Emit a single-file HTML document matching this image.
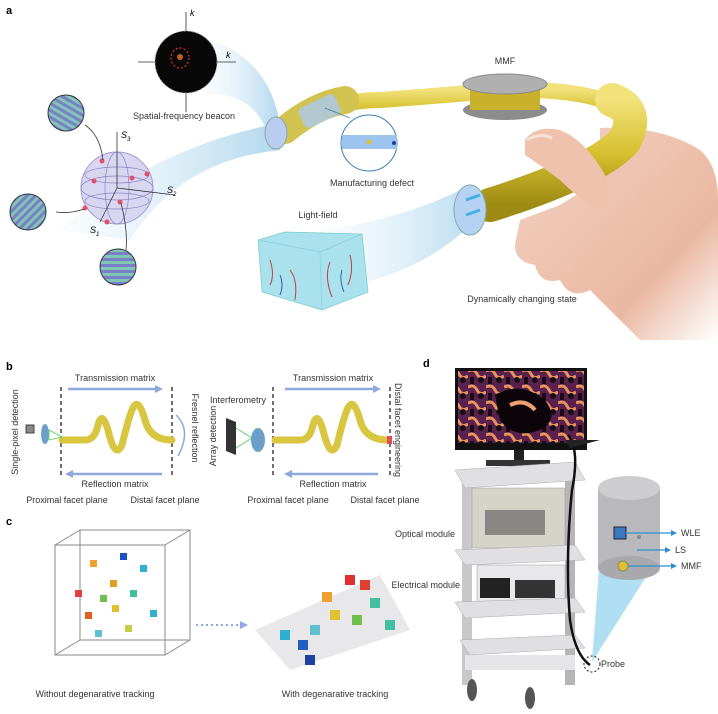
<!DOCTYPE html>
<html><head><meta charset="utf-8"><style>
html,body{margin:0;padding:0;background:#fff;}
svg{display:block;font-family:"Liberation Sans",sans-serif;}
</style></head><body>
<svg width="718" height="714" viewBox="0 0 718 714" xmlns="http://www.w3.org/2000/svg">
<defs>
<linearGradient id="glow" x1="0" x2="1"><stop offset="0" stop-color="#d8ecf7" stop-opacity="0.2"/><stop offset="1" stop-color="#8fc6e6"/></linearGradient>
<linearGradient id="yel" x1="0" y1="0" x2="0" y2="1"><stop offset="0" stop-color="#f1e27a"/><stop offset="0.5" stop-color="#d6c130"/><stop offset="1" stop-color="#9c8a14"/></linearGradient>
<linearGradient id="skin" x1="0" y1="0" x2="1" y2="1"><stop offset="0" stop-color="#f3d3c3"/><stop offset="0.7" stop-color="#eab8a2"/><stop offset="1" stop-color="#fff"/></linearGradient>
<pattern id="str1" width="6" height="6" patternUnits="userSpaceOnUse" patternTransform="rotate(-60)"><rect width="6" height="6" fill="#7fc7b2"/><rect width="3" height="6" fill="#7a7fc9"/></pattern>
<pattern id="str2" width="6" height="6" patternUnits="userSpaceOnUse" patternTransform="rotate(45)"><rect width="6" height="6" fill="#7fc7b2"/><rect width="3" height="6" fill="#7a7fc9"/></pattern>
<pattern id="str3" width="6" height="6" patternUnits="userSpaceOnUse"><rect width="6" height="6" fill="#7fc7b2"/><rect width="6" height="3" fill="#7a7fc9"/></pattern>
<pattern id="img" width="18" height="16" patternUnits="userSpaceOnUse"><rect width="18" height="16" fill="#5a2050"/><path d="M0 3 Q6 0 9 6 T18 8" stroke="#e8955a" stroke-width="3" fill="none"/><circle cx="13" cy="12" r="3" fill="#111"/><rect x="2" y="9" width="4" height="7" fill="#1a0a14"/></pattern>
</defs>

<!-- Panel a -->
<text x="6" y="14" font-size="11" font-weight="bold">a</text>
<path d="M210 40 Q270 60 280 125 L270 140 Q255 90 205 95 Z" fill="url(#glow)" opacity="0.7"/>
<path d="M60 230 Q150 150 270 125 L280 150 Q180 160 130 240 Z" fill="url(#glow)" opacity="0.7"/>
<path d="M320 230 Q400 220 460 190 L470 225 Q420 275 330 290 Z" fill="url(#glow)" opacity="0.6"/>
<line x1="186" y1="12" x2="186" y2="112" stroke="#333" stroke-width="0.8"/>
<line x1="138" y1="62" x2="236" y2="62" stroke="#333" stroke-width="0.8"/>
<circle cx="186" cy="62" r="31" fill="#080808" stroke="#999" stroke-dasharray="2 2"/>
<ellipse cx="180" cy="58" rx="9" ry="10" fill="none" stroke="#e03030" stroke-dasharray="2 2" stroke-width="1.2"/>
<circle cx="180" cy="57" r="3" fill="#c06020"/>
<text x="190" y="16" font-size="9" font-style="italic">k</text>
<text x="226" y="58" font-size="9" font-style="italic">k</text>
<text x="184" y="119" font-size="9" text-anchor="middle" fill="#333">Spatial-frequency beacon</text>
<circle cx="117" cy="188" r="36" fill="#d9d6f2" stroke="#a09ad0"/>
<ellipse cx="117" cy="188" rx="36" ry="12" fill="none" stroke="#8a85c0" stroke-width="0.7"/>
<ellipse cx="117" cy="188" rx="12" ry="36" fill="none" stroke="#8a85c0" stroke-width="0.7"/>
<ellipse cx="117" cy="175" rx="32" ry="8" fill="none" stroke="#8a85c0" stroke-width="0.7"/>
<ellipse cx="117" cy="201" rx="32" ry="8" fill="none" stroke="#8a85c0" stroke-width="0.7"/>
<line x1="117" y1="188" x2="117" y2="132" stroke="#333" stroke-width="0.8"/>
<line x1="117" y1="188" x2="175" y2="195" stroke="#333" stroke-width="0.8"/>
<line x1="117" y1="188" x2="100" y2="222" stroke="#333" stroke-width="0.8"/>
<g fill="#e0506a"><circle cx="102" cy="161" r="2.5"/><circle cx="94" cy="181" r="2.5"/><circle cx="132" cy="178" r="2.5"/><circle cx="147" cy="174" r="2.5"/><circle cx="120" cy="202" r="2.5"/><circle cx="85" cy="208" r="2.5"/><circle cx="107" cy="222" r="2.5"/></g>
<text x="121" y="138" font-size="9" font-style="italic">S<tspan font-size="6" dy="3">3</tspan></text>
<text x="167" y="193" font-size="9" font-style="italic">S<tspan font-size="6" dy="3">2</tspan></text>
<text x="90" y="233" font-size="9" font-style="italic">S<tspan font-size="6" dy="3">1</tspan></text>
<path d="M103 160 Q100 135 85 125" fill="none" stroke="#333" stroke-width="0.8"/>
<path d="M84 209 Q70 214 56 212" fill="none" stroke="#333" stroke-width="0.8"/>
<path d="M121 203 Q128 230 126 250" fill="none" stroke="#333" stroke-width="0.8"/>
<circle cx="66" cy="113" r="18" fill="url(#str1)" stroke="#334"/>
<circle cx="28" cy="212" r="18" fill="url(#str2)" stroke="#334"/>
<circle cx="118" cy="267" r="18" fill="url(#str3)" stroke="#334"/>
<!-- hand (behind fiber) -->
<path d="M600 128 Q660 125 700 150 Q718 165 718 200 L718 340 L640 340 Q610 310 590 290 Q570 300 560 280 Q540 285 535 265 Q515 262 515 245 L520 220 L560 205 L600 180 Z" fill="url(#skin)"/>
<!-- fiber a -->
<path d="M290 128 Q330 100 380 100 Q450 95 500 90 Q580 88 615 105" fill="none" stroke="url(#yel)" stroke-width="16" stroke-linecap="round"/>
<path d="M285 130 Q315 105 345 100" fill="none" stroke="#d2c350" stroke-width="28" stroke-linecap="round"/>
<rect x="300" y="100" width="40" height="22" rx="5" fill="#aac8ee" opacity="0.8" transform="rotate(-25 320 112)"/>
<ellipse cx="276" cy="133" rx="11" ry="16" fill="#b8cdf0" stroke="#8aa"/>
<path d="M612 100 Q640 110 625 140 Q600 170 490 205" fill="none" stroke="url(#yel)" stroke-width="34" stroke-linecap="round"/>
<!-- spool -->
<ellipse cx="505" cy="110" rx="42" ry="10" fill="#8c8c8c"/>
<rect x="470" y="85" width="70" height="25" fill="#c9b12c"/>
<ellipse cx="505" cy="84" rx="42" ry="10" fill="#b0b0b0" stroke="#888"/>
<text x="505" y="64" font-size="9" text-anchor="middle" fill="#333">MMF</text>
<line x1="325" y1="108" x2="350" y2="118" stroke="#3a7db0" stroke-width="0.7"/>
<circle cx="369" cy="143" r="28" fill="#fff" stroke="#3a7db0"/>
<rect x="342" y="135" width="55" height="14" fill="#9dc4ee"/>
<circle cx="369" cy="142" r="2.5" fill="#e0c030"/>
<circle cx="394" cy="143" r="2" fill="#2040a0"/>
<text x="372" y="186" font-size="9" text-anchor="middle" fill="#333">Manufacturing defect</text>
<!-- thumb over fiber -->
<path d="M525 140 Q535 125 560 130 Q585 140 605 175 Q615 200 600 210 Q580 200 560 180 Q540 165 525 155 Z" fill="#efc2ae"/>
<path d="M527 140 Q540 132 552 138" stroke="#f7e0d6" stroke-width="3" fill="none"/>
<!-- fiber end cap -->
<ellipse cx="470" cy="210" rx="16" ry="25" fill="#b5d2f2" stroke="#8aa"/>
<path d="M466 200 l14 -5 M466 215 l14 -5" stroke="#40b0e0" stroke-width="3"/>
<text x="522" y="302" font-size="9" text-anchor="middle" fill="#333">Dynamically changing state</text>
<!-- light field -->
<path d="M258 240 L285 232 L362 234 L368 292 L322 310 L262 292 Z" fill="#a9e1ec" stroke="#7cc" stroke-width="0.7"/>
<path d="M258 240 L320 252 L362 234 M320 252 L322 310" stroke="#8cd" stroke-width="0.7" fill="none"/>
<g stroke="#c04040" stroke-width="1" fill="none"><path d="M270 260 q5 15 0 25"/><path d="M290 270 q8 10 5 30"/><path d="M330 262 q-6 15 2 35"/><path d="M350 255 q4 15 -2 30"/></g>
<g stroke="#4060b0" stroke-width="1" fill="none"><path d="M280 275 q4 10 0 20"/><path d="M342 270 q-3 10 2 22"/></g>
<text x="318" y="218" font-size="9" text-anchor="middle" fill="#333">Light-field</text>

<!-- Panel b -->
<text x="6" y="370" font-size="11" font-weight="bold">b</text>
<g stroke="#222" stroke-width="1.3" stroke-dasharray="4 3"><line x1="61" y1="387" x2="61" y2="475"/><line x1="172" y1="387" x2="172" y2="475"/><line x1="273" y1="387" x2="273" y2="475"/><line x1="390" y1="387" x2="390" y2="475"/></g>
<g stroke="#8fa8dd" stroke-width="2.5" fill="#8fa8dd">
<line x1="68" y1="389" x2="158" y2="389"/><polygon points="163,389 155,385 155,393" stroke="none"/>
<line x1="70" y1="474" x2="162" y2="474"/><polygon points="65,474 73,470 73,478" stroke="none"/>
<line x1="285" y1="389" x2="375" y2="389"/><polygon points="381,389 373,385 373,393" stroke="none"/>
<line x1="290" y1="474" x2="378" y2="474"/><polygon points="284,474 292,470 292,478" stroke="none"/>
</g>
<text x="115" y="381" font-size="9" text-anchor="middle" fill="#333">Transmission matrix</text>
<text x="115" y="487" font-size="9" text-anchor="middle" fill="#333">Reflection matrix</text>
<text x="333" y="381" font-size="9" text-anchor="middle" fill="#333">Transmission matrix</text>
<text x="333" y="487" font-size="9" text-anchor="middle" fill="#333">Reflection matrix</text>
<text x="67" y="503" font-size="9" text-anchor="middle" fill="#333">Proximal facet plane</text>
<text x="165" y="503" font-size="9" text-anchor="middle" fill="#333">Distal facet plane</text>
<text x="288" y="503" font-size="9" text-anchor="middle" fill="#333">Proximal facet plane</text>
<text x="385" y="503" font-size="9" text-anchor="middle" fill="#333">Distal facet plane</text>
<text transform="translate(18,432) rotate(-90)" font-size="9" text-anchor="middle" fill="#333">Single-pixel detection</text>
<text transform="translate(192,428) rotate(90)" font-size="9" text-anchor="middle" fill="#333">Fresnel reflection</text>
<text transform="translate(216,436) rotate(-90)" font-size="9" text-anchor="middle" fill="#333">Array detection</text>
<text transform="translate(395,430) rotate(90)" font-size="9" text-anchor="middle" fill="#333">Distal facet engineering</text>
<text x="238" y="403" font-size="9" text-anchor="middle" fill="#333">Interferometry</text>
<path d="M176 415 Q192 430 178 456" fill="none" stroke="#8fa8dd" stroke-width="1.5"/>
<g fill="none" stroke="#d8c540" stroke-width="7" stroke-linecap="round">
<path d="M62 440 L85 440 Q95 440 98 425 Q102 410 108 430 Q115 460 122 445 Q128 420 132 410 Q138 395 145 420 Q150 440 172 440"/>
<path d="M275 440 L300 440 Q310 440 313 425 Q317 410 323 430 Q330 460 337 445 Q343 420 347 410 Q353 395 360 420 Q365 440 388 440"/>
</g>
<rect x="387" y="436" width="5" height="8" fill="#e05050"/>
<rect x="26" y="425" width="8" height="8" fill="#888" stroke="#444"/>
<ellipse cx="45" cy="434" rx="4" ry="10" fill="#6aa0c8"/>
<path d="M49 430 L62 437 L49 440 Z" fill="none" stroke="#5c5" stroke-width="0.8"/>
<polygon points="226,418 236,422 236,455 226,451" fill="#333"/>
<path d="M236 428 L252 438 L236 448" fill="none" stroke="#5c5" stroke-width="0.8"/>
<ellipse cx="258" cy="440" rx="7" ry="12" fill="#6aa0c8"/>

<!-- Panel c -->
<text x="6" y="525" font-size="11" font-weight="bold">c</text>
<g fill="none" stroke="#888" stroke-width="1">
<rect x="55" y="545" width="110" height="110"/><rect x="80" y="530" width="110" height="110"/>
<line x1="55" y1="545" x2="80" y2="530"/><line x1="165" y1="545" x2="190" y2="530"/><line x1="55" y1="655" x2="80" y2="640"/><line x1="165" y1="655" x2="190" y2="640"/>
</g>
<g>
<rect x="90" y="560" width="7" height="7" fill="#f0a030"/><rect x="120" y="553" width="7" height="7" fill="#2050c0"/><rect x="140" y="565" width="7" height="7" fill="#30b0d0"/>
<rect x="75" y="590" width="7" height="7" fill="#e04040"/><rect x="100" y="595" width="7" height="7" fill="#70c050"/><rect x="112" y="605" width="7" height="7" fill="#e0c030"/>
<rect x="130" y="590" width="7" height="7" fill="#40c0a0"/><rect x="85" y="612" width="7" height="7" fill="#e06020"/><rect x="150" y="610" width="7" height="7" fill="#30b0d0"/>
<rect x="95" y="630" width="7" height="7" fill="#60c0d0"/><rect x="125" y="625" width="7" height="7" fill="#c0d040"/><rect x="110" y="580" width="7" height="7" fill="#e0a020"/>
</g>
<line x1="196" y1="625" x2="240" y2="625" stroke="#8fa8dd" stroke-width="2" stroke-dasharray="2 3"/>
<polygon points="248,625 240,621 240,629" fill="#8fa8dd"/>
<polygon points="255,630 380,575 410,630 290,670" fill="#e8e8ea"/>
<g>
<rect x="345" y="575" width="10" height="10" fill="#e03030"/><rect x="360" y="580" width="10" height="10" fill="#e04030"/><rect x="322" y="592" width="10" height="10" fill="#f0a030"/>
<rect x="330" y="610" width="10" height="10" fill="#e0c030"/><rect x="370" y="598" width="10" height="10" fill="#40c0a0"/><rect x="352" y="615" width="10" height="10" fill="#70c050"/>
<rect x="280" y="630" width="10" height="10" fill="#30b0d0"/><rect x="298" y="640" width="10" height="10" fill="#2060c0"/><rect x="310" y="625" width="10" height="10" fill="#60c0d0"/>
<rect x="385" y="620" width="10" height="10" fill="#40c0a0"/><rect x="305" y="655" width="10" height="10" fill="#2040a0"/>
</g>
<text x="95" y="697" font-size="9" text-anchor="middle" fill="#333">Without degenarative tracking</text>
<text x="335" y="697" font-size="9" text-anchor="middle" fill="#333">With degenarative tracking</text>

<!-- Panel d -->
<text x="423" y="367" font-size="11" font-weight="bold">d</text>
<rect x="455" y="368" width="132" height="82" fill="#111"/>
<rect x="458" y="371" width="126" height="72" fill="url(#img)"/>
<path d="M495 395 Q520 380 545 400 Q560 420 540 430 Q515 440 500 420 Z" fill="#0c050a"/>
<path d="M510 405 Q525 398 535 410" stroke="#f0a070" stroke-width="4" fill="none"/>
<rect x="514" y="450" width="10" height="12" fill="#222"/>
<rect x="486" y="460" width="64" height="6" fill="#333"/>
<rect x="462" y="475" width="10" height="210" fill="#c8c8cc"/>
<rect x="565" y="480" width="10" height="205" fill="#b5b5ba"/>
<polygon points="455,470 575,462 585,480 465,488" fill="#e0e0e4" stroke="#aaa" stroke-width="0.5"/>
<rect x="472" y="488" width="93" height="60" fill="#d6d3c8" stroke="#999" stroke-width="0.5"/>
<path d="M485 510 h60 v25 h-60 z" fill="#555" opacity="0.6"/>
<polygon points="455,550 575,545 585,560 465,565" fill="#e0e0e4" stroke="#aaa" stroke-width="0.5"/>
<rect x="477" y="565" width="88" height="37" fill="#e8e8ea" stroke="#999" stroke-width="0.5"/>
<rect x="480" y="578" width="30" height="20" fill="#222"/><rect x="515" y="580" width="40" height="18" fill="#333"/>
<polygon points="455,602 575,598 585,612 465,618" fill="#e0e0e4" stroke="#aaa" stroke-width="0.5"/>
<polygon points="460,640 575,635 585,648 470,655" fill="#e0e0e4" stroke="#aaa" stroke-width="0.5"/>
<rect x="465" y="655" width="110" height="15" fill="#e5e5e8"/>
<ellipse cx="472" cy="690" rx="5" ry="11" fill="#555"/><ellipse cx="530" cy="698" rx="5" ry="11" fill="#555"/>
<path d="M568 435 Q580 450 572 490 Q565 560 570 620 Q575 655 590 665" fill="none" stroke="#111" stroke-width="2.5"/>
<path d="M565 440 L600 440 L570 448 Z" fill="#222"/>
<text x="455" y="537" font-size="9" text-anchor="end" fill="#333">Optical module</text>
<text x="460" y="588" font-size="9" text-anchor="end" fill="#333">Electrical module</text>
<polygon points="592,662 600,555 660,555" fill="#8fd0ec" opacity="0.7"/>
<rect x="598" y="488" width="62" height="80" fill="#b9b9bd"/>
<ellipse cx="629" cy="488" rx="31" ry="12" fill="#cdcdd0"/>
<ellipse cx="629" cy="568" rx="31" ry="12" fill="#a9a9ad"/>
<rect x="614" y="527" width="12" height="12" fill="#3a78c0" stroke="#223"/>
<circle cx="639" cy="537" r="2" fill="#888"/>
<circle cx="623" cy="566" r="5" fill="#e0c030" stroke="#886"/>
<g stroke="#2a90d0" stroke-width="1.2" fill="#2a90d0">
<line x1="626" y1="533" x2="672" y2="533"/><polygon points="677,533 671,530 671,536" stroke="none"/>
<line x1="637" y1="550" x2="666" y2="550"/><polygon points="671,550 665,547 665,553" stroke="none"/>
<line x1="628" y1="566" x2="672" y2="566"/><polygon points="677,566 671,563 671,569" stroke="none"/>
</g>
<text x="681" y="536" font-size="9" fill="#333">WLE</text>
<text x="675" y="553" font-size="9" fill="#333">LS</text>
<text x="681" y="569" font-size="9" fill="#333">MMF</text>
<circle cx="592" cy="664" r="8" fill="none" stroke="#222" stroke-dasharray="2 2"/>
<text x="601" y="667" font-size="9" fill="#333">Probe</text>
</svg>
</body></html>
